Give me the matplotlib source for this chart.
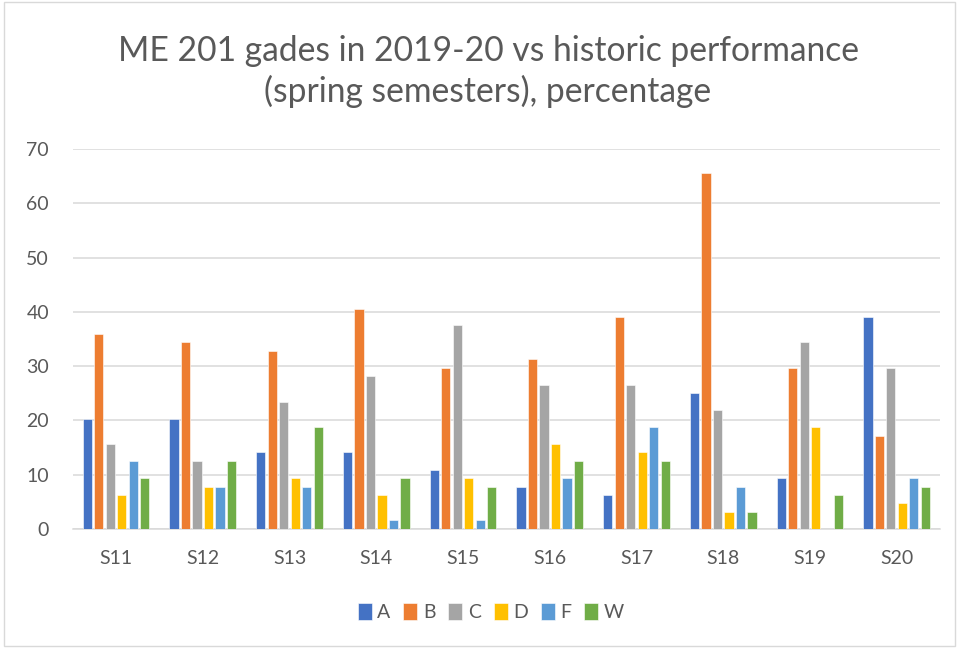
import numpy as np
import matplotlib.pyplot as plt
from matplotlib.patches import Rectangle

plt.rcParams['font.family'] = ['Lato', 'DejaVu Sans']

semesters = ['S11', 'S12', 'S13', 'S14', 'S15', 'S16', 'S17', 'S18', 'S19', 'S20']
grades = ['A', 'B', 'C', 'D', 'F', 'W']
colors = ['#4472C4', '#ED7D31', '#A5A5A5', '#FFC000', '#5B9BD5', '#70AD47']

grade_a = [20.3, 20.3, 14.1, 14.1, 10.9, 7.8, 6.3, 25.0, 9.4, 39.1]
grade_b = [35.9, 34.4, 32.8, 40.6, 29.7, 31.3, 39.1, 65.6, 29.7, 17.2]
grade_c = [15.6, 12.5, 23.4, 28.1, 37.5, 26.6, 26.6, 21.9, 34.4, 29.7]
grade_d = [6.3, 7.8, 9.4, 6.3, 9.4, 15.6, 14.1, 3.1, 18.8, 4.7]
grade_f = [12.5, 7.8, 7.8, 1.6, 1.6, 9.4, 18.8, 7.8, 0.0, 9.4]
grade_w = [9.4, 12.5, 18.8, 9.4, 7.8, 12.5, 12.5, 3.1, 6.3, 7.8]

series = [grade_a, grade_b, grade_c, grade_d, grade_f, grade_w]

W, H = 959, 649
fig = plt.figure(figsize=(W / 100, H / 100), dpi=100)
ax = fig.add_axes([72.7 / W, 1 - 529 / H, (940 - 72.7) / W, (529 - 149) / H])

x = np.arange(len(semesters))
pitch = 0.1325
width = 0.106
for i, (vals, g, c) in enumerate(zip(series, grades, colors)):
    offs = (i - 2.5) * pitch
    ax.bar(x + offs, vals, width, color=c, label=g, edgecolor='white', linewidth=0.4, zorder=3)

ax.set_xlim(-0.5, len(semesters) - 0.5)
ax.set_ylim(0, 70)
ax.set_yticks(range(0, 71, 10))
ax.set_xticks(x)
ax.set_xticklabels(semesters)
ax.grid(axis='y', color='#D9D9D9', linewidth=1.1, zorder=0)
for s in ['top', 'right', 'left']:
    ax.spines[s].set_visible(False)
ax.spines['bottom'].set_color('#D9D9D9')
ax.spines['bottom'].set_linewidth(1.1)
ax.tick_params(axis='both', length=0, labelsize=14, colors='#595959')
ax.tick_params(axis='x', pad=15)
ax.tick_params(axis='y', pad=17)

title_lines = ['ME 201 gades in 2019-20 vs historic performance', '(spring semesters), percentage']
fig.text(488 / W, 1 - 61 / H, title_lines[0], ha='center', va='baseline', fontsize=24.2, color='#595959')
fig.text(488 / W, 1 - 102 / H, title_lines[1], ha='center', va='baseline', fontsize=24.2, color='#595959')

fig.legend(loc='center', bbox_to_anchor=(491 / W, 1 - 612 / H), ncol=6, frameon=False,
           fontsize=14, handlelength=0.72, handleheight=1.0, handletextpad=0.3,
           columnspacing=0.65, labelcolor='#595959')

fig.patches.append(Rectangle((0.004, 0.004), 0.992, 0.993, transform=fig.transFigure,
                             fill=False, edgecolor='#D9D9D9', linewidth=1))

fig.savefig('out.png', dpi=100)
